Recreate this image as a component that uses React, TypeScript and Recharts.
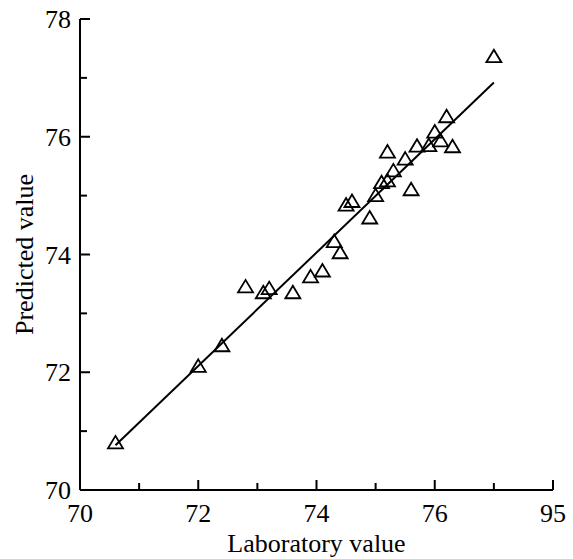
import { Label, Scatter, ScatterChart, XAxis, YAxis } from 'recharts';

const labValues = [
  70.6, 72.0, 72.4, 72.8, 73.1, 73.2, 73.6, 73.9, 74.1, 74.3, 74.4, 74.5, 74.6, 74.9,
  75.0, 75.1, 75.2, 75.2, 75.3, 75.5, 75.6, 75.7, 75.9, 76.0, 76.1, 76.2, 76.3, 77.0,
];
const predValues = [
  70.8, 72.1, 72.45, 73.45, 73.35, 73.42, 73.35, 73.62, 73.72, 74.22, 74.03, 74.84, 74.9, 74.62,
  75.0, 75.22, 75.74, 75.25, 75.42, 75.62, 75.1, 75.84, 75.85, 76.08, 75.93, 76.34, 75.83, 77.36,
];

// fitted line end points
const fitX = [70.6, 77.0];
const fitY = [70.76, 76.92];

const axisTicks = [70, 71, 72, 73, 74, 75, 76, 77, 78];
const xTickLabels = ['70', '', '72', '', '74', '', '76', '', '95'];
const yTickLabels = ['70', '', '72', '', '74', '', '76', '', '78'];

const points = labValues.map((x, i) => ({ x, y: predValues[i] }));
const fitLine = fitX.map((x, i) => ({ x, y: fitY[i] }));

const FONT = '"Liberation Serif", "Times New Roman", serif';

function Triangle(props: any) {
  const { cx, cy } = props;
  return (
    <path
      d={`M${cx},${cy - 7}L${cx + 7.5},${cy + 5.5}L${cx - 7.5},${cy + 5.5}Z`}
      fill="none"
      stroke="#000"
      strokeWidth={1.8}
    />
  );
}

function XTick(props: any) {
  const { x, y, payload } = props;
  const i = axisTicks.indexOf(payload.value);
  const major = i % 2 === 0;
  return (
    <g>
      <line x1={x} x2={x} y1={y} y2={y - (major ? 10 : 7)} stroke="#000" strokeWidth={2} />
      {xTickLabels[i] && (
        <text x={x} y={y + 32} textAnchor="middle" fontFamily={FONT} fontSize={26} fill="#000">
          {xTickLabels[i]}
        </text>
      )}
    </g>
  );
}

function YTick(props: any) {
  const { x, y, payload } = props;
  const i = axisTicks.indexOf(payload.value);
  const major = i % 2 === 0;
  return (
    <g>
      <line x1={x} x2={x + (major ? 10 : 7)} y1={y} y2={y} stroke="#000" strokeWidth={2} />
      {yTickLabels[i] && (
        <text x={x - 9} y={y + 9} textAnchor="end" fontFamily={FONT} fontSize={26} fill="#000">
          {yTickLabels[i]}
        </text>
      )}
    </g>
  );
}

export default function App() {
  return (
    <div style={{ position: 'absolute', left: 0, top: 0, width: 573, height: 559, background: '#fff' }}>
      <ScatterChart width={573} height={559} margin={{ top: 19, right: 20, bottom: 0, left: 0 }}>
        <XAxis
          type="number"
          dataKey="x"
          domain={[70, 78]}
          ticks={axisTicks}
          interval={0}
          height={69}
          tickSize={0}
          tickMargin={0}
          tickLine={false}
          axisLine={{ stroke: '#000', strokeWidth: 2 }}
          tick={(p: any) => <XTick {...p} />}
        >
          <Label
            content={(p: any) => (
              <text
                x={p.viewBox.x + p.viewBox.width / 2}
                y={p.viewBox.y + 62}
                textAnchor="middle"
                fontFamily={FONT}
                fontSize={26}
                fill="#000"
              >
                Laboratory value
              </text>
            )}
          />
        </XAxis>
        <YAxis
          type="number"
          dataKey="y"
          domain={[70, 78]}
          ticks={axisTicks}
          interval={0}
          width={80}
          tickSize={0}
          tickMargin={0}
          tickLine={false}
          axisLine={{ stroke: '#000', strokeWidth: 2 }}
          tick={(p: any) => <YTick {...p} />}
        >
          <Label
            content={(p: any) => {
              const cx = p.viewBox.x + 33;
              const cy = p.viewBox.y + p.viewBox.height / 2;
              return (
                <text
                  x={cx}
                  y={cy}
                  transform={`rotate(-90 ${cx} ${cy})`}
                  textAnchor="middle"
                  fontFamily={FONT}
                  fontSize={26}
                  fill="#000"
                >
                  Predicted value
                </text>
              );
            }}
          />
        </YAxis>
        <Scatter
          data={fitLine}
          line={{ stroke: '#000', strokeWidth: 2 }}
          shape={() => <g />}
          isAnimationActive={false}
        />
        <Scatter data={points} shape={(p: any) => <Triangle {...p} />} isAnimationActive={false} />
      </ScatterChart>
    </div>
  );
}
